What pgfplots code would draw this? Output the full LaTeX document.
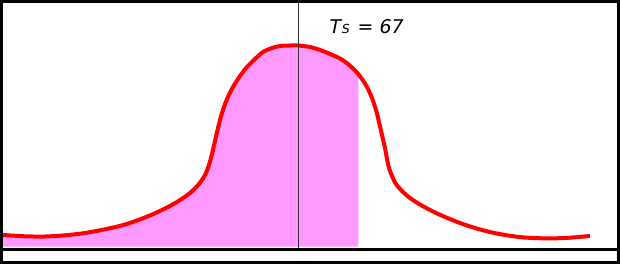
\documentclass[border=0pt]{standalone}
\usepackage{pgfplots}
\pgfplotsset{compat=1.18}
\usepackage{fontspec}
\setmainfont{Liberation Sans}
\newfontfamily\dejavu{DejaVu Sans}
\definecolor{fillmag}{RGB}{255,153,255}
\begin{document}
\begin{tikzpicture}
\begin{axis}[name=ax,
  width=620bp, height=265bp, scale only axis,
  xmin=0, xmax=620, ymin=0, ymax=265, y dir=reverse,
  hide axis, clip=false]
% shaded area under the curve up to x = 358
\addplot[draw=none, fill=fillmag, smooth] coordinates {
 (3,235) (25,236.3) (45,236.5) (65,235.3) (85,233) (105,229.3) (125,224.5)
 (145,217.5) (162,210) (177,202) (190,193) (199,184) (205,175) (209,165)
 (212,154) (215,141) (218,128) (222,113) (227,99) (233,87)
 (240,76) (247,67) (255,59) (263,52) (272,48) (280,46) (290,45.5)
 (298,45.5) (310,47) (320,50) (330,54) (340,58.5) (348,64) (356,71.5)
 (358.3,73.5)} |- (axis cs:3,246.5) -- cycle;
% curve
\addplot[red, line width=4bp, smooth] coordinates {
 (3,235) (25,236.3) (45,236.5) (65,235.3) (85,233) (105,229.3) (125,224.5)
 (145,217.5) (162,210) (177,202) (190,193) (199,184) (205,175) (209,165)
 (212,154) (215,141) (218,128) (222,113) (227,99) (233,87)
 (240,76) (247,67) (255,59) (263,52) (272,48) (280,46) (290,45.5)
 (298,45.5) (310,47) (320,50) (330,54) (340,58.5) (348,64) (356,71.5)
 (362,79) (367,87) (372,98) (376,110) (379,122) (382,135) (385,148)
 (387,159) (389,168) (392,176) (396,184) (402,191) (410,198) (420,204.5)
 (432,211) (445,217) (460,223) (475,228) (490,232) (505,235) (522,237.3)
 (543,238.3) (565,238) (590,236)};
% vertical marker
\draw[black!80, line width=0.9bp] (axis cs:298.5,2) -- (axis cs:298.5,248);
% baseline and frame
\draw[black, line width=3bp] (axis cs:0,249.3) -- (axis cs:620,249.3);
\draw[black, line width=2.6bp] (axis cs:1.3,1.3) rectangle (axis cs:618.3,262.3);
\node[anchor=base west, inner sep=0pt, font=\dejavu\fontsize{19}{20}\selectfont\itshape]
  at (axis cs:329.5,33.3) {T\kern0.5bp{\fontsize{12.5}{12.5}\selectfont S}\kern8bp=\kern6bp 67};
\end{axis}
\pgfresetboundingbox
\path[use as bounding box] (ax.south west) rectangle (ax.north east);
\end{tikzpicture}
\end{document}
